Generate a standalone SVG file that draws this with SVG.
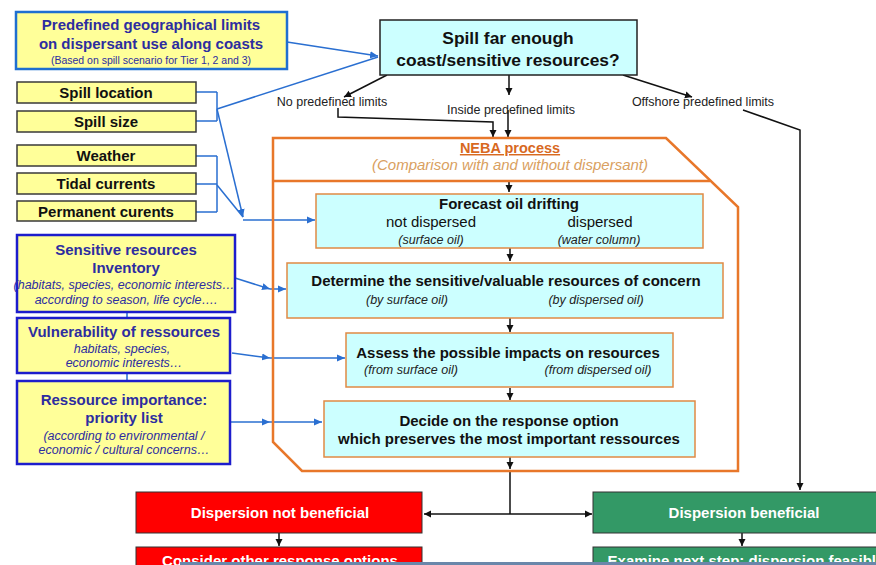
<svg xmlns="http://www.w3.org/2000/svg" width="876" height="565" viewBox="0 0 876 565">
<style>
text{font-family:"Liberation Sans",Arial,sans-serif}
.yb{fill:#ffff99;stroke:#3a3a3a;stroke-width:1.5}
.yB{fill:#ffff99;stroke:#1d1dcc;stroke-width:2.5}
.cy{fill:#ccffff;stroke:#e08a44;stroke-width:1.5}
.bk{font-weight:bold;font-size:15px;fill:#111;text-anchor:middle}
.nv{font-weight:bold;font-size:15px;fill:#2d2da0;text-anchor:middle}
.nvi{font-style:italic;font-size:12.5px;fill:#2d2da0;text-anchor:middle}
.it{font-style:italic;font-size:12.5px;fill:#222;text-anchor:middle}
.lb{font-size:12.5px;fill:#222;text-anchor:middle}
.wt{font-weight:bold;font-size:15px;fill:#fff;text-anchor:middle}
.c{fill:none;stroke:#111;stroke-width:1.5}
.cb{fill:none;stroke:#2a6fd1;stroke-width:1.5}
</style>
<defs>
<marker id="ak" markerWidth="8" markerHeight="8" refX="7" refY="4" orient="auto" markerUnits="userSpaceOnUse"><path d="M0,0.5 L7,4 L0,7.5 Z" fill="#111"/></marker>
<marker id="ab" markerWidth="9" markerHeight="8" refX="8" refY="4" orient="auto" markerUnits="userSpaceOnUse"><path d="M0,0.5 L8,4 L0,7.5 Z" fill="#2a6fd1"/></marker>
</defs>

<g id="connectors">
<path class="cb" d="M287,42 L378,56" marker-end="url(#ab)"/>
<path class="cb" d="M196,92 H217 M196,121 H217 M217,92 V121"/>
<path class="cb" d="M217,109 L378,57"/>
<path class="cb" d="M217,109 L243,217" marker-end="url(#ab)"/>
<path class="cb" d="M196,156 H217 M196,184 H217 M196,212 H217 M217,156 V212"/>
<path class="cb" d="M217,185 L243,217"/>
<path class="cb" d="M243,220 H315" marker-end="url(#ab)"/>
<path class="cb" d="M235,278 L270,289" marker-end="url(#ab)"/>
<path class="cb" d="M270,289 H286" marker-end="url(#ab)"/>
<path class="cb" d="M232,353 L270,358" marker-end="url(#ab)"/>
<path class="cb" d="M270,358 H345" marker-end="url(#ab)"/>
<path class="cb" d="M230,422 H270" marker-end="url(#ab)"/>
<path class="cb" d="M270,422 H322" marker-end="url(#ab)"/>
<path class="cb" d="M127,312 V318 M127,373 V381"/>
<path class="c" d="M387,75 L344,97" marker-end="url(#ak)"/>
<path class="c" d="M509,75 V95" marker-end="url(#ak)"/>
<path class="c" d="M623,75 L692,97" marker-end="url(#ak)"/>
<path class="c" d="M338,108 V117 L493,122 V137" marker-end="url(#ak)"/>
<path class="c" d="M508,110 V137" marker-end="url(#ak)"/>
<path class="c" d="M743,110 L800,130 V490" marker-end="url(#ak)"/>
<path class="c" d="M509,181 V192" marker-end="url(#ak)"/>
<path class="c" d="M510,248 V261" marker-end="url(#ak)"/>
<path class="c" d="M510,318 V332" marker-end="url(#ak)"/>
<path class="c" d="M510,388 V400" marker-end="url(#ak)"/>
<path class="c" d="M510,457 V469" marker-end="url(#ak)"/>
<path class="c" d="M510,471 V514"/>
<path class="c" d="M510,514 H424" marker-end="url(#ak)"/>
<path class="c" d="M510,514 H592" marker-end="url(#ak)"/>
<path class="c" d="M279,533 V546" marker-end="url(#ak)"/>
<path class="c" d="M742,533 V546" marker-end="url(#ak)"/>
</g>

<g id="predefined">
<rect x="16" y="12" width="271" height="57" fill="#ffff99" stroke="#1f6fd0" stroke-width="2.5"/>
<text class="nv" x="151" y="30">Predefined geographical limits</text>
<text class="nv" x="151" y="49">on dispersant use along coasts</text>
<text x="151" y="64" font-size="10.5" fill="#2d2da0" text-anchor="middle">(Based on spill scenario for Tier 1, 2 and 3)</text>
</g>

<g id="spillq">
<rect x="380" y="20" width="257" height="55" fill="#ccffff" stroke="#222" stroke-width="1.5"/>
<text class="bk" x="508" y="44" style="font-size:17.4px">Spill far enough</text>
<text class="bk" x="508" y="66" style="font-size:17.4px">coast/sensitive resources?</text>
</g>

<g id="spill-location"><rect class="yb" x="17" y="82" width="179" height="21"/><text class="bk" x="106" y="98">Spill location</text></g>
<g id="spill-size"><rect class="yb" x="17" y="111" width="179" height="21"/><text class="bk" x="106" y="127">Spill size</text></g>
<g id="weather"><rect class="yb" x="17" y="145" width="179" height="21"/><text class="bk" x="106" y="161">Weather</text></g>
<g id="tidal"><rect class="yb" x="17" y="173" width="179" height="21"/><text class="bk" x="106" y="189">Tidal currents</text></g>
<g id="permanent"><rect class="yb" x="17" y="201" width="179" height="20"/><text class="bk" x="106" y="217">Permanent curents</text></g>

<g id="sensitive">
<rect class="yB" x="17" y="235" width="218" height="77"/>
<text class="nv" x="126" y="255">Sensitive resources</text>
<text class="nv" x="126" y="273">Inventory</text>
<text class="nvi" x="124" y="289">(habitats, species, economic interests…</text>
<text class="nvi" x="126" y="304">according to season, life cycle….</text>
</g>
<g id="vulnerability">
<rect class="yB" x="17" y="318" width="213" height="55"/>
<text class="nv" x="124" y="337">Vulnerability of ressources</text>
<text class="nvi" x="122" y="353">habitats, species,</text>
<text class="nvi" x="124" y="367">economic interests…</text>
</g>
<g id="importance">
<rect class="yB" x="17" y="381" width="213" height="83"/>
<text class="nv" x="124" y="405">Ressource importance:</text>
<text class="nv" x="124" y="423">priority list</text>
<text class="nvi" x="124" y="440">(according to environmental /</text>
<text class="nvi" x="124" y="454">economic / cultural concerns…</text>
</g>

<g id="labels">
<text class="lb" x="332" y="106">No predefined  limits</text>
<text class="lb" x="511" y="114">Inside predefined limits</text>
<text class="lb" x="703" y="106">Offshore predefined limits</text>
</g>

<g id="neba">
<path d="M273,138 H666 L738,207 V471 H302 L273,442 Z" fill="none" stroke="#e8772a" stroke-width="2.5"/>
<path d="M273,181 H710" fill="none" stroke="#e8772a" stroke-width="2.5"/>
<text x="510" y="153" font-size="14.5" font-weight="bold" fill="#d8691f" text-anchor="middle" text-decoration="underline">NEBA process</text>
<text x="510" y="170" font-size="15" font-style="italic" fill="#d9a060" text-anchor="middle">(Comparison with and without dispersant)</text>
</g>

<g id="forecast">
<rect class="cy" x="316" y="194" width="387" height="54"/>
<text class="bk" x="509" y="209">Forecast oil drifting</text>
<text x="431" y="227" font-size="15" fill="#111" text-anchor="middle">not dispersed</text>
<text x="600" y="227" font-size="15" fill="#111" text-anchor="middle">dispersed</text>
<text class="it" x="431" y="244">(surface oil)</text>
<text class="it" x="599" y="244">(water column)</text>
</g>
<g id="determine">
<rect class="cy" x="287" y="263" width="436" height="55"/>
<text class="bk" x="506" y="286">Determine the sensitive/valuable resources of concern</text>
<text class="it" x="407" y="304">(by surface oil)</text>
<text class="it" x="596" y="304">(by dispersed oil)</text>
</g>
<g id="assess">
<rect class="cy" x="346" y="333" width="327" height="54"/>
<text class="bk" x="508" y="358">Assess the possible impacts on resources</text>
<text class="it" x="411" y="374">(from surface oil)</text>
<text class="it" x="598" y="374">(from dispersed oil)</text>
</g>
<g id="decide">
<rect class="cy" x="324" y="401" width="371" height="56"/>
<text class="bk" x="509" y="426">Decide on the response option</text>
<text class="bk" x="509" y="444">which preserves the most important ressources</text>
</g>

<g id="not-beneficial"><rect x="136" y="492" width="286" height="41" fill="#ff0000" stroke="#333" stroke-width="1"/><text class="wt" x="280" y="518">Dispersion not  beneficial</text></g>
<g id="consider"><rect x="136" y="547" width="286" height="25" fill="#ff0000" stroke="#333" stroke-width="1"/><text class="wt" x="280" y="566">Consider other response options</text></g>
<g id="beneficial"><rect x="593" y="492" width="290" height="41" fill="#339966" stroke="#333" stroke-width="1"/><text class="wt" x="744" y="518">Dispersion beneficial</text></g>
<g id="examine"><rect x="593" y="547" width="290" height="25" fill="#339966" stroke="#333" stroke-width="1"/><text class="wt" x="746" y="566">Examine next step: dispersion feasible</text></g>
<rect x="180" y="562" width="696" height="3" fill="#6a87aa"/>
</svg>
